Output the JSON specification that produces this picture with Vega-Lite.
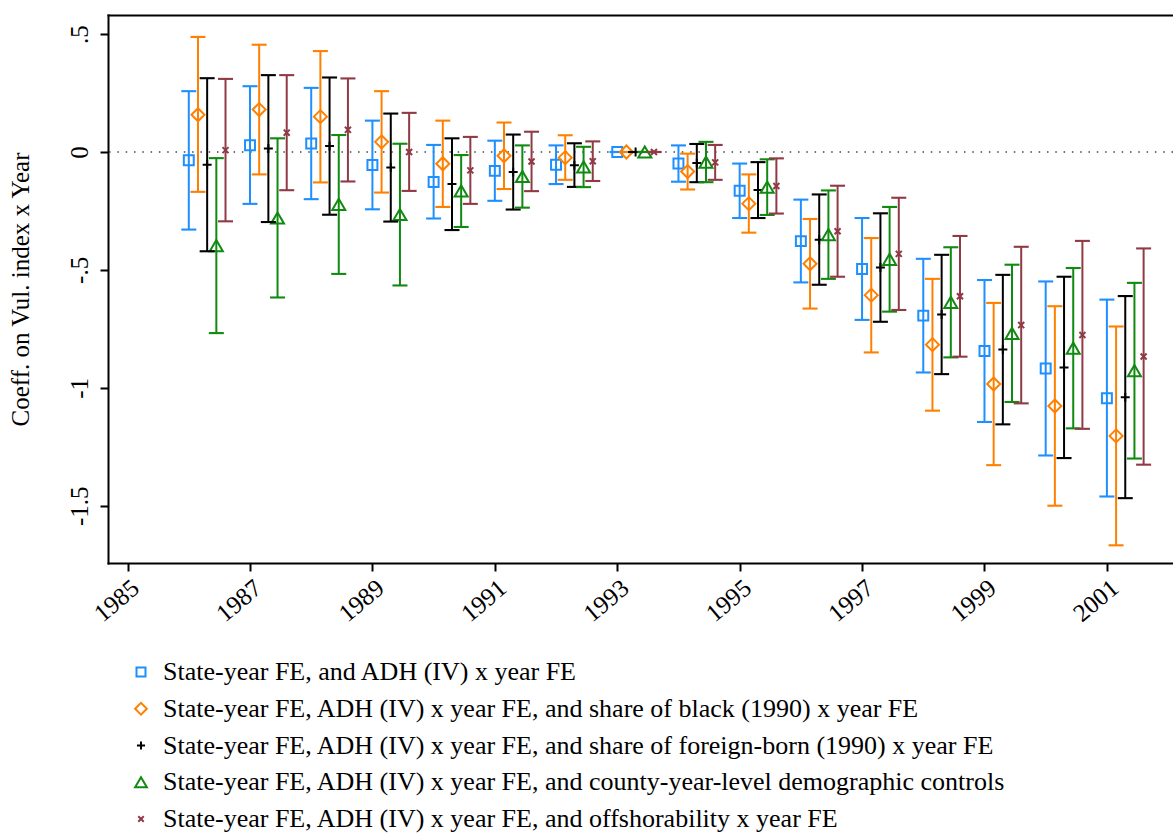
{
  "$schema": "https://vega.github.io/schema/vega-lite/v6.json",
  "width": 1065,
  "height": 548,
  "autosize": {"type": "none"},
  "padding": {"left": 108, "top": 15, "right": 0, "bottom": 272},
  "background": "white",
  "config": {
    "font": "Liberation Serif",
    "view": {"stroke": null},
    "axis": {"grid": false, "domain": true, "domainColor": "black", "domainWidth": 2, "domainCap": "square", "tickColor": "black", "tickWidth": 2, "tickSize": 8, "labelColor": "black", "labelFont": "Liberation Serif", "titleFont": "Liberation Serif", "titleColor": "black", "titleFontWeight": "normal"}
  },
  "resolve": {"axis": {"x": "independent"}},
  "data": {"values": [
    {"year": 1986, "s": "A", "b": -0.035, "lo": -0.329, "hi": 0.258},
    {"year": 1986, "s": "B", "b": 0.158, "lo": -0.169, "hi": 0.488},
    {"year": 1986, "s": "C", "b": -0.054, "lo": -0.421, "hi": 0.313},
    {"year": 1986, "s": "D", "b": -0.397, "lo": -0.768, "hi": -0.026},
    {"year": 1986, "s": "E", "b": 0.008, "lo": -0.294, "hi": 0.31},
    {"year": 1987, "s": "A", "b": 0.029, "lo": -0.22, "hi": 0.279},
    {"year": 1987, "s": "B", "b": 0.18, "lo": -0.095, "hi": 0.455},
    {"year": 1987, "s": "C", "b": 0.015, "lo": -0.297, "hi": 0.326},
    {"year": 1987, "s": "D", "b": -0.28, "lo": -0.617, "hi": 0.058},
    {"year": 1987, "s": "E", "b": 0.082, "lo": -0.162, "hi": 0.326},
    {"year": 1988, "s": "A", "b": 0.036, "lo": -0.2, "hi": 0.272},
    {"year": 1988, "s": "B", "b": 0.15, "lo": -0.129, "hi": 0.428},
    {"year": 1988, "s": "C", "b": 0.025, "lo": -0.266, "hi": 0.316},
    {"year": 1988, "s": "D", "b": -0.222, "lo": -0.517, "hi": 0.072},
    {"year": 1988, "s": "E", "b": 0.094, "lo": -0.125, "hi": 0.312},
    {"year": 1989, "s": "A", "b": -0.055, "lo": -0.243, "hi": 0.133},
    {"year": 1989, "s": "B", "b": 0.043, "lo": -0.172, "hi": 0.258},
    {"year": 1989, "s": "C", "b": -0.066, "lo": -0.295, "hi": 0.163},
    {"year": 1989, "s": "D", "b": -0.265, "lo": -0.566, "hi": 0.035},
    {"year": 1989, "s": "E", "b": 0.0, "lo": -0.165, "hi": 0.166},
    {"year": 1990, "s": "A", "b": -0.127, "lo": -0.282, "hi": 0.03},
    {"year": 1990, "s": "B", "b": -0.05, "lo": -0.233, "hi": 0.133},
    {"year": 1990, "s": "C", "b": -0.136, "lo": -0.331, "hi": 0.058},
    {"year": 1990, "s": "D", "b": -0.165, "lo": -0.318, "hi": -0.013},
    {"year": 1990, "s": "E", "b": -0.078, "lo": -0.22, "hi": 0.064},
    {"year": 1991, "s": "A", "b": -0.08, "lo": -0.207, "hi": 0.048},
    {"year": 1991, "s": "B", "b": -0.016, "lo": -0.157, "hi": 0.125},
    {"year": 1991, "s": "C", "b": -0.085, "lo": -0.244, "hi": 0.074},
    {"year": 1991, "s": "D", "b": -0.104, "lo": -0.236, "hi": 0.028},
    {"year": 1991, "s": "E", "b": -0.04, "lo": -0.166, "hi": 0.086},
    {"year": 1992, "s": "A", "b": -0.054, "lo": -0.136, "hi": 0.028},
    {"year": 1992, "s": "B", "b": -0.024, "lo": -0.118, "hi": 0.071},
    {"year": 1992, "s": "C", "b": -0.056, "lo": -0.148, "hi": 0.037},
    {"year": 1992, "s": "D", "b": -0.063, "lo": -0.149, "hi": 0.022},
    {"year": 1992, "s": "E", "b": -0.039, "lo": -0.123, "hi": 0.045},
    {"year": 1993, "s": "A", "b": 0, "lo": 0, "hi": 0},
    {"year": 1993, "s": "B", "b": 0, "lo": 0, "hi": 0},
    {"year": 1993, "s": "C", "b": 0, "lo": 0, "hi": 0},
    {"year": 1993, "s": "D", "b": 0, "lo": 0, "hi": 0},
    {"year": 1993, "s": "E", "b": 0, "lo": 0, "hi": 0},
    {"year": 1994, "s": "A", "b": -0.049, "lo": -0.126, "hi": 0.028},
    {"year": 1994, "s": "B", "b": -0.083, "lo": -0.159, "hi": -0.007},
    {"year": 1994, "s": "C", "b": -0.047, "lo": -0.128, "hi": 0.034},
    {"year": 1994, "s": "D", "b": -0.043, "lo": -0.128, "hi": 0.043},
    {"year": 1994, "s": "E", "b": -0.044, "lo": -0.118, "hi": 0.03},
    {"year": 1995, "s": "A", "b": -0.164, "lo": -0.28, "hi": -0.049},
    {"year": 1995, "s": "B", "b": -0.219, "lo": -0.342, "hi": -0.095},
    {"year": 1995, "s": "C", "b": -0.161, "lo": -0.28, "hi": -0.043},
    {"year": 1995, "s": "D", "b": -0.149, "lo": -0.267, "hi": -0.031},
    {"year": 1995, "s": "E", "b": -0.144, "lo": -0.261, "hi": -0.027},
    {"year": 1996, "s": "A", "b": -0.378, "lo": -0.553, "hi": -0.202},
    {"year": 1996, "s": "B", "b": -0.474, "lo": -0.664, "hi": -0.284},
    {"year": 1996, "s": "C", "b": -0.372, "lo": -0.563, "hi": -0.18},
    {"year": 1996, "s": "D", "b": -0.35, "lo": -0.538, "hi": -0.163},
    {"year": 1996, "s": "E", "b": -0.336, "lo": -0.529, "hi": -0.143},
    {"year": 1997, "s": "A", "b": -0.496, "lo": -0.712, "hi": -0.28},
    {"year": 1997, "s": "B", "b": -0.607, "lo": -0.85, "hi": -0.365},
    {"year": 1997, "s": "C", "b": -0.49, "lo": -0.72, "hi": -0.26},
    {"year": 1997, "s": "D", "b": -0.455, "lo": -0.677, "hi": -0.233},
    {"year": 1997, "s": "E", "b": -0.432, "lo": -0.67, "hi": -0.194},
    {"year": 1998, "s": "A", "b": -0.694, "lo": -0.935, "hi": -0.453},
    {"year": 1998, "s": "B", "b": -0.817, "lo": -1.097, "hi": -0.538},
    {"year": 1998, "s": "C", "b": -0.689, "lo": -0.942, "hi": -0.436},
    {"year": 1998, "s": "D", "b": -0.638, "lo": -0.871, "hi": -0.404},
    {"year": 1998, "s": "E", "b": -0.612, "lo": -0.868, "hi": -0.356},
    {"year": 1999, "s": "A", "b": -0.844, "lo": -1.145, "hi": -0.543},
    {"year": 1999, "s": "B", "b": -0.984, "lo": -1.328, "hi": -0.64},
    {"year": 1999, "s": "C", "b": -0.838, "lo": -1.155, "hi": -0.521},
    {"year": 1999, "s": "D", "b": -0.769, "lo": -1.06, "hi": -0.478},
    {"year": 1999, "s": "E", "b": -0.734, "lo": -1.066, "hi": -0.402},
    {"year": 2000, "s": "A", "b": -0.918, "lo": -1.287, "hi": -0.549},
    {"year": 2000, "s": "B", "b": -1.077, "lo": -1.5, "hi": -0.654},
    {"year": 2000, "s": "C", "b": -0.914, "lo": -1.298, "hi": -0.529},
    {"year": 2000, "s": "D", "b": -0.832, "lo": -1.172, "hi": -0.492},
    {"year": 2000, "s": "E", "b": -0.776, "lo": -1.174, "hi": -0.377},
    {"year": 2001, "s": "A", "b": -1.044, "lo": -1.461, "hi": -0.626},
    {"year": 2001, "s": "B", "b": -1.204, "lo": -1.668, "hi": -0.74},
    {"year": 2001, "s": "C", "b": -1.04, "lo": -1.468, "hi": -0.611},
    {"year": 2001, "s": "D", "b": -0.927, "lo": -1.3, "hi": -0.555},
    {"year": 2001, "s": "E", "b": -0.867, "lo": -1.326, "hi": -0.409}
  ]},
  "layer": [
    {
      "data": {"values": [{"z": 0}]},
      "mark": {"type": "rule", "strokeDash": [1.5, 6.8], "strokeWidth": 1.5, "color": "#444444"},
      "encoding": {"y": {"field": "z", "type": "quantitative", "scale": {"domain": [-1.743, 0.581], "nice": false, "zero": false}}}
    },
    {
      "mark": {"type": "point", "filled": false, "strokeWidth": 2, "opacity": 1, "size": 196, "xOffset": {"expr": "indexof(['A','B','C','D','E'], datum.s) * 9.18"}},
      "encoding": {
        "x": {"field": "year", "type": "quantitative", "scale": {"domain": [1984.68, 2002.08], "nice": false, "zero": false},
          "axis": {"orient": "bottom", "values": [1985, 1987, 1989, 1991, 1993, 1995, 1997, 1999, 2001], "format": "d", "title": null, "labelAngle": -40, "labelFontSize": 25, "labelPadding": 4}},
        "y": {"field": "b", "type": "quantitative",
          "axis": {"values": [-1.5, -1, -0.5, 0, 0.5], "labelExpr": "replace(toString(datum.value), '0.', '.')", "title": "Coeff. on Vul. index x Year", "titleFontSize": 25, "labelFontSize": 25, "labelAngle": -90, "labelAlign": "center", "labelBaseline": "bottom", "labelPadding": 8, "titlePadding": 34}},
        "stroke": {"field": "s", "type": "nominal", "scale": {"domain": ["A", "B", "C", "D", "E"], "range": ["#1e8fff", "#ff8000", "#000000", "#108a10", "#8f3a45"]},
          "legend": {"orient": "none", "legendX": 20, "legendY": 644, "direction": "vertical", "title": null, "labelFontSize": 26, "labelColor": "black", "labelFont": "Liberation Serif", "labelLimit": 0, "symbolStrokeWidth": 2, "symbolSize": 160, "rowPadding": 10.75, "labelOffset": 9, "padding": 0,
            "encode": {"symbols": {"fill": {"value": "transparent"}, "fillOpacity": {"value": 0}}},
            "labelExpr": "datum.label == 'A' ? 'State-year FE, and ADH (IV) x year FE' : datum.label == 'B' ? 'State-year FE, ADH (IV) x year FE, and share of black (1990) x year FE' : datum.label == 'C' ? 'State-year FE, ADH (IV) x year FE, and share of foreign-born (1990) x year FE' : datum.label == 'D' ? 'State-year FE, ADH (IV) x year FE, and county-year-level demographic controls' : 'State-year FE, ADH (IV) x year FE, and offshorability x year FE'"}},
        "shape": {"field": "s", "type": "nominal", "scale": {"domain": ["A", "B", "C", "D", "E"], "range": ["M-0.71,-0.71H0.71V0.71H-0.71Z", "M-0.93,0L0,-0.93L0.93,0L0,0.93Z", "M-0.64,0H0.64M0,-0.64V0.64", "M0,-0.8L0.93,0.8L-0.93,0.8Z", "M-0.43,-0.43L0.43,0.43M-0.43,0.43L0.43,-0.43"]}}
      }
    },
    {
      "mark": {"type": "rule", "strokeWidth": 2, "xOffset": {"expr": "indexof(['A','B','C','D','E'], datum.s) * 9.18"}},
      "encoding": {
        "x": {"field": "year", "type": "quantitative", "axis": null},
        "y": {"field": "lo", "type": "quantitative"},
        "y2": {"field": "hi"},
        "stroke": {"field": "s", "type": "nominal"}
      }
    },
    {
      "mark": {"type": "tick", "orient": "horizontal", "filled": false, "size": 13, "thickness": 0.1, "strokeWidth": 2, "opacity": 1, "xOffset": {"expr": "indexof(['A','B','C','D','E'], datum.s) * 9.18"}},
      "encoding": {
        "x": {"field": "year", "type": "quantitative", "axis": null},
        "y": {"field": "lo", "type": "quantitative"},
        "stroke": {"field": "s", "type": "nominal"}
      }
    },
    {
      "mark": {"type": "tick", "orient": "horizontal", "filled": false, "size": 13, "thickness": 0.1, "strokeWidth": 2, "opacity": 1, "xOffset": {"expr": "indexof(['A','B','C','D','E'], datum.s) * 9.18"}},
      "encoding": {
        "x": {"field": "year", "type": "quantitative", "axis": {"orient": "top", "labels": false, "ticks": false, "title": null, "domain": true}},
        "y": {"field": "hi", "type": "quantitative"},
        "stroke": {"field": "s", "type": "nominal"}
      }
    }
  ]
}
